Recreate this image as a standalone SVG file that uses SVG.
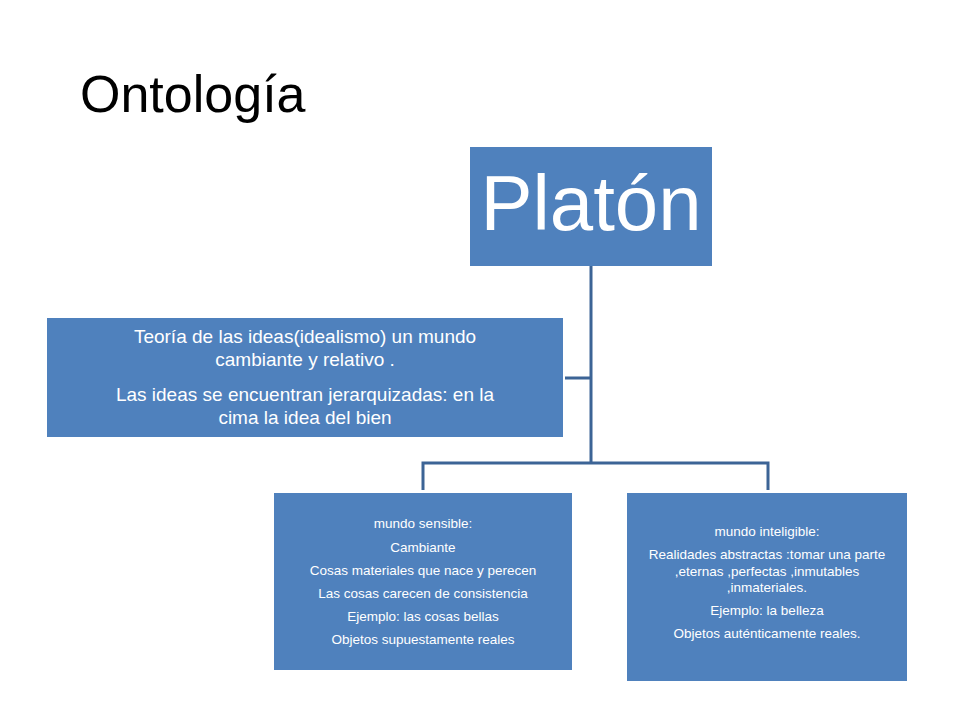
<svg xmlns="http://www.w3.org/2000/svg" width="960" height="720" viewBox="0 0 960 720">
<style>
.box{fill:#4F81BD}
.t{font-family:"Liberation Sans",Arial,sans-serif;fill:#fff;text-anchor:middle}
.m{font-size:19px}
.s{font-size:13.5px}
.c{stroke:#3C6496;stroke-width:3;fill:none}
</style>
<rect width="960" height="720" fill="#fff"/>
<text x="80" y="112" font-family="Liberation Sans,Arial,sans-serif" font-size="52" fill="#000">Ontología</text>
<g id="connectors">
<path class="c" d="M591 266V463M565 378H591M423 490V463H768V490"/>
</g>
<g id="platon">
<rect class="box" x="470" y="147" width="242" height="119"/>
<text class="t" x="591" y="230" font-size="78">Platón</text>
</g>
<g id="teoria">
<rect class="box" x="47" y="318" width="516" height="119"/>
<text class="t m" x="305" y="343">Teoría de las ideas(idealismo) un mundo</text>
<text class="t m" x="305" y="366">cambiante y relativo .</text>
<text class="t m" x="305" y="401">Las ideas se encuentran jerarquizadas: en la</text>
<text class="t m" x="305" y="424">cima la idea del bien</text>
</g>
<g id="sensible">
<rect class="box" x="274" y="493" width="298" height="177"/>
<text class="t s" x="423" y="528">mundo sensible:</text>
<text class="t s" x="423" y="552">Cambiante</text>
<text class="t s" x="423" y="575">Cosas materiales que  nace y perecen</text>
<text class="t s" x="423" y="598">Las cosas carecen de consistencia</text>
<text class="t s" x="423" y="621">Ejemplo: las cosas bellas</text>
<text class="t s" x="423" y="644">Objetos supuestamente reales</text>
</g>
<g id="inteligible">
<rect class="box" x="627" y="493" width="280" height="188"/>
<text class="t s" x="767" y="536">mundo inteligible:</text>
<text class="t s" x="767" y="559">Realidades abstractas :tomar una parte</text>
<text class="t s" x="767" y="576">,eternas ,perfectas ,inmutables</text>
<text class="t s" x="767" y="592">,inmateriales.</text>
<text class="t s" x="767" y="615">Ejemplo: la belleza</text>
<text class="t s" x="767" y="638">Objetos auténticamente reales.</text>
</g>
</svg>
